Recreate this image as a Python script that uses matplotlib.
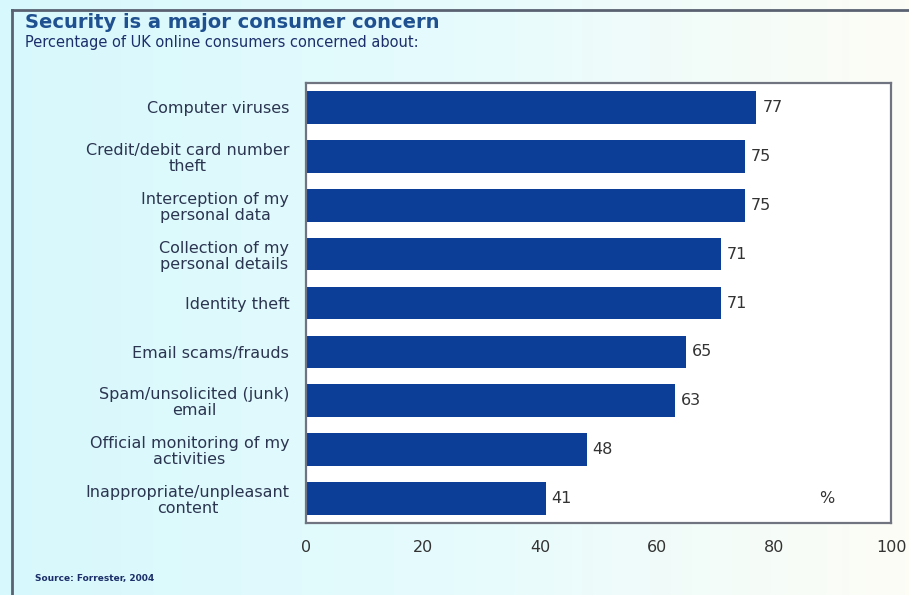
import numpy as np
import matplotlib.pyplot as plt
from matplotlib.lines import Line2D
from matplotlib.colors import LinearSegmentedColormap

# survey results, top to bottom
concerns = [
    "Computer viruses",
    "Credit/debit card number\ntheft",
    "Interception of my\npersonal data",
    "Collection of my\npersonal details",
    "Identity theft",
    "Email scams/frauds",
    "Spam/unsolicited (junk)\nemail",
    "Official monitoring of my\nactivities",
    "Inappropriate/unpleasant\ncontent",
]
percent = [77, 75, 75, 71, 71, 65, 63, 48, 41]
xticks = [0, 20, 40, 60, 80, 100]

bar_color = "#0c3e98"
text_color = "#2b3550"
title_color = "#1f5190"

fig = plt.figure(figsize=(9.09, 5.95), dpi=100)

# pale cyan-to-white backdrop
bg = fig.add_axes([0, 0, 1, 1], zorder=-10)
cmap = LinearSegmentedColormap.from_list("bg", ["#d7f8fc", "#e6fbfd", "#fdfdf6"])
bg.imshow(np.linspace(0, 1, 256).reshape(1, -1), aspect="auto", cmap=cmap,
          extent=[0, 1, 0, 1])
bg.set_axis_off()

# frame lines along top and left
fig.add_artist(Line2D([12 / 909, 12 / 909], [0, 1 - 10 / 595],
                      color="#5a6272", lw=2, transform=fig.transFigure))
fig.add_artist(Line2D([12 / 909, 1], [1 - 10 / 595, 1 - 10 / 595],
                      color="#5a6272", lw=2, transform=fig.transFigure))

ax = fig.add_axes([306 / 909, 1 - 523 / 595, 585 / 909, 440 / 595])
ax.set_facecolor("white")
y = np.arange(len(concerns))
ax.barh(y, percent, height=0.67, color=bar_color)
ax.set_ylim(len(concerns) - 0.5, -0.5)
ax.set_xlim(0, 100)

for yi, v in zip(y, percent):
    ax.text(v + 1, yi, str(v), va="center", ha="left", fontsize=11.5,
            color="#333333")
ax.text(89, 8, "%", va="center", ha="center", fontsize=11.5, color="#333333")

ax.set_yticks(y)
ax.set_yticklabels(concerns, fontsize=11.5, color=text_color,
                   multialignment="center", linespacing=1.1)
ax.set_xticks(xticks)
ax.set_xticklabels([str(t) for t in xticks], fontsize=11.5, color="#333333")
ax.tick_params(length=0, pad=12, axis="x")
ax.tick_params(length=0, pad=12, axis="y")
for s in ax.spines.values():
    s.set_color("#6f7480")
    s.set_linewidth(1.6)

fig.text(25 / 909, 1 - 22 / 595, "Security is a major consumer concern",
         fontsize=14, fontweight="bold", color=title_color, va="center")
fig.text(25 / 909, 1 - 42 / 595,
         "Percentage of UK online consumers concerned about:",
         fontsize=10.5, color="#1c2f6a", va="center")
fig.text(35 / 909, 1 - 578 / 595, "Source: Forrester, 2004",
         fontsize=6.5, fontweight="bold", color="#1c2f6a", va="center")

fig.savefig("out.png", dpi=100)
